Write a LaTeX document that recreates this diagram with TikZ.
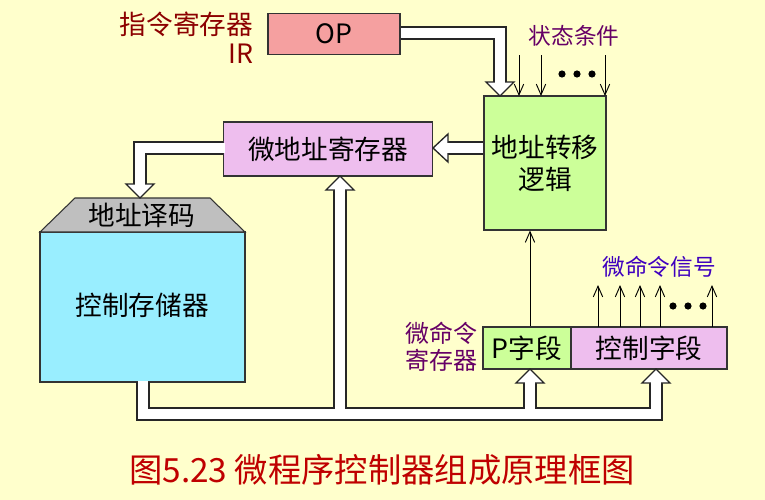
\documentclass[tikz,border=0pt]{standalone}
\usepackage{fontspec}
\usetikzlibrary{arrows.meta}
\setmainfont{Noto Sans CJK SC}
\definecolor{bg}{RGB}{255,255,204}
\definecolor{cyanbox}{RGB}{153,238,255}
\definecolor{pinkbox}{RGB}{245,160,160}
\definecolor{greenbox}{RGB}{204,255,153}
\definecolor{violbox}{RGB}{238,190,238}
\begin{document}
\begin{tikzpicture}[x=0.75pt,y=-0.75pt,
 box/.style={draw=black!80,line width=0.8pt,inner sep=0pt,font=\fontsize{20}{24}\selectfont},
 bo/.style={line width=9.9pt,black!85,line join=miter},
 bi/.style={line width=7.9pt,white,line join=miter},
 hd/.style={fill=white,draw=black!85,line width=1pt,line join=miter},
 thin/.style={-{Straight Barb[length=8pt,width=7pt]},line width=0.7pt,black}]
\useasboundingbox (0,0) rectangle (765,500);
\fill[bg] (0,0) rectangle (765,500);
% nodes
\node[box,fill=pinkbox,minimum width=132*0.75pt,minimum height=41*0.75pt] (op) at (334,34) {OP};
\node[anchor=east,text=red!55!black,font=\fontsize{20}{22}\selectfont,align=right] (ir) at (258,38) {指令寄存器\\IR};
\node[box,fill=greenbox,minimum width=122*0.75pt,minimum height=134*0.75pt,align=center] (logic) at (545,163) {地址转移\\逻辑};
\node[text=violet!80!black,font=\fontsize{17}{19}\selectfont] (st) at (574,36) {状态条件};
\node[box,fill=violbox,minimum width=209*0.75pt,minimum height=54*0.75pt] (mar) at (328,149) {微地址寄存器};
\draw[black!80,line width=0.8pt,fill=cyanbox] (40,232) rectangle (245,382);
\node[font=\fontsize{20}{24}\selectfont] (cs) at (142,305) {控制存储器};
\draw[black!80,line width=0.8pt,fill=black!25] (40,232) -- (75,198) -- (210,198) -- (245,232) -- cycle;
\node[font=\fontsize{20}{24}\selectfont] (dec) at (142,215) {地址译码};
\node[box,fill=greenbox,minimum width=88*0.75pt,minimum height=42*0.75pt] (pf) at (527,348) {P字段};
\node[box,fill=violbox,minimum width=156*0.75pt,minimum height=42*0.75pt] (cf) at (649,348) {控制字段};
\node[anchor=east,text=violet!80!black,font=\fontsize{18}{20}\selectfont,align=right] (mir) at (482,347) {微命令\\寄存器};
\node[text=blue!50!violet,font=\fontsize{17}{19}\selectfont] (sig) at (659,267) {微命令信号};
\node[text=red!75!black,font=\fontsize{25}{28}\selectfont] (cap) at (382,470) {图5.23 微程序控制器组成原理框图};
% thin arrows
\foreach \x in {519,541,605} \draw[thin] (\x,55) -- (\x,96);
\foreach \x in {562,577,592} \fill (\x,74) circle (3.6);
\foreach \x in {598,620,640,660,712} \draw[thin] (\x,327) -- (\x,285);
\foreach \x in {673,688,703} \fill (\x,306) circle (3.6);
\draw[thin] (pf.north -| 530,0) -- (logic.south -| 530,0);
% hollow arrows
\draw[bo] (op.east |- 0,33) -- (500,33) -- (500,82);
\draw[bo] (logic.west |- 0,148) -- (448,148);
\draw[bo] (mar.west |- 0,148) -- (140,148) -- (140,184);
\draw[bo] (143,382) -- (143,414) -- (656,414) -- (656,383);
\draw[bo] (340,414) -- (340,190);
\draw[bo] (530,414) -- (530,383);
\draw[hd] (486,82) -- (514,82) -- (500,96) -- cycle;
\draw[hd] (448,134) -- (448,162) -- (433,148) -- cycle;
\draw[hd] (126,184) -- (154,184) -- (140,198) -- cycle;
\draw[hd] (326,190) -- (354,190) -- (340,176) -- cycle;
\draw[hd] (516,383) -- (544,383) -- (530,369) -- cycle;
\draw[hd] (642,383) -- (670,383) -- (656,369) -- cycle;
\draw[bi] (401,33) -- (500,33) -- (500,83);
\draw[bi] (483,148) -- (447,148);
\draw[bi] (225,148) -- (140,148) -- (140,185);
\draw[bi] (143,381) -- (143,414) -- (656,414) -- (656,382);
\draw[bi] (340,414) -- (340,189);
\draw[bi] (530,414) -- (530,382);
\end{tikzpicture}
\end{document}
